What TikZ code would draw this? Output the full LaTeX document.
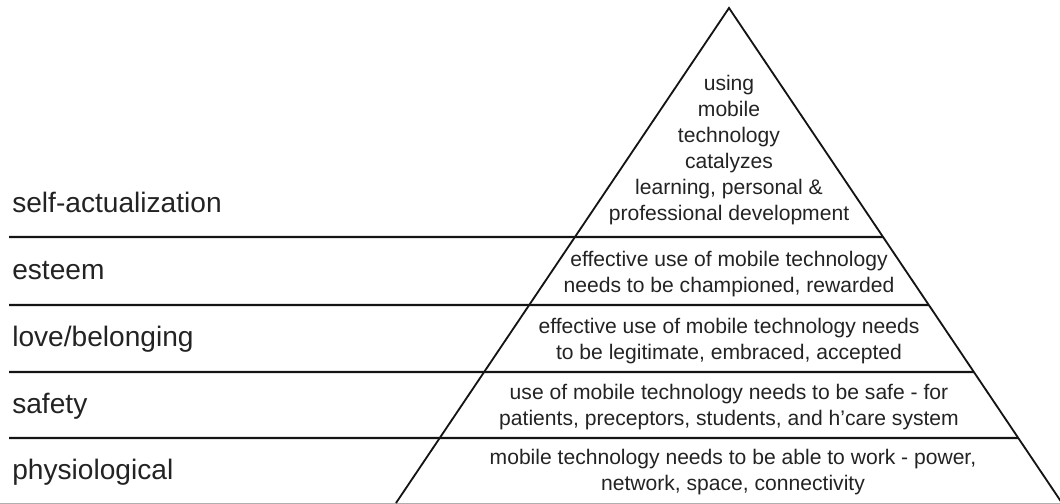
\documentclass[tikz,border=0pt]{standalone}
\usepackage{fontspec}
\setmainfont{Liberation Sans}
\usetikzlibrary{calc}
\definecolor{pyInk}{RGB}{35,35,35}
\definecolor{pyLine}{RGB}{20,20,20}
\definecolor{pyRule}{RGB}{175,175,175}
\tikzset{
    base/.style={font=\fontsize{15}{18.5}\selectfont, text=pyInk, align=center, inner sep=0pt},
    level/.style={font=\fontsize{20}{24}\selectfont, text=pyInk, anchor=base west, inner sep=0pt},
    need/.style={base},
    side/.style={pyLine, line width=1.3pt, line join=miter},
    tier/.style={pyLine, line width=1.6pt},
    rule/.style={pyRule, line width=0.6pt}
}

\begin{document}
\begin{tikzpicture}[x=0.025cm, y=-0.025cm]
  \useasboundingbox (0,0) rectangle (1060,504);
  \coordinate (apex) at (729,8);
  \coordinate (baseL) at (396,503);
  \coordinate (baseR) at (1062,503);

  \foreach \y in {237,305,372,438}
    \draw[tier] (9,\y) -- ($(apex)!{(\y-8)/495}!(baseR)$);
  \draw[rule] (0,503) -- (1060,503);
  \draw[side] (baseL) -- (apex) -- (baseR);

  \node[level] (selfact) at (12,213) {self-actualization};
  \node[level] (esteem) at (12,280) {esteem};
  \node[level] (love) at (12,347) {love/belonging};
  \node[level] (safety) at (12,413) {safety};
  \node[level] (physio) at (12,479) {physiological};

  \node[need] (selfactTxt) at (729,150) {using\\mobile\\technology\\catalyzes\\learning, personal \&\\professional development};
  \node[need] (esteemTxt) at (729,274) {effective use of mobile technology\\needs to be championed, rewarded};
  \node[need] (loveTxt) at (729,341) {effective use of mobile technology needs\\to be legitimate, embraced, accepted};
  \node[need] (safetyTxt) at (729,407) {use of mobile technology needs to be safe - for\\patients, preceptors, students, and h'care system};
  \node[need] (physioTxt) at (733,472) {mobile technology needs to be able to work - power,\\network, space, connectivity};
\end{tikzpicture}
\end{document}
